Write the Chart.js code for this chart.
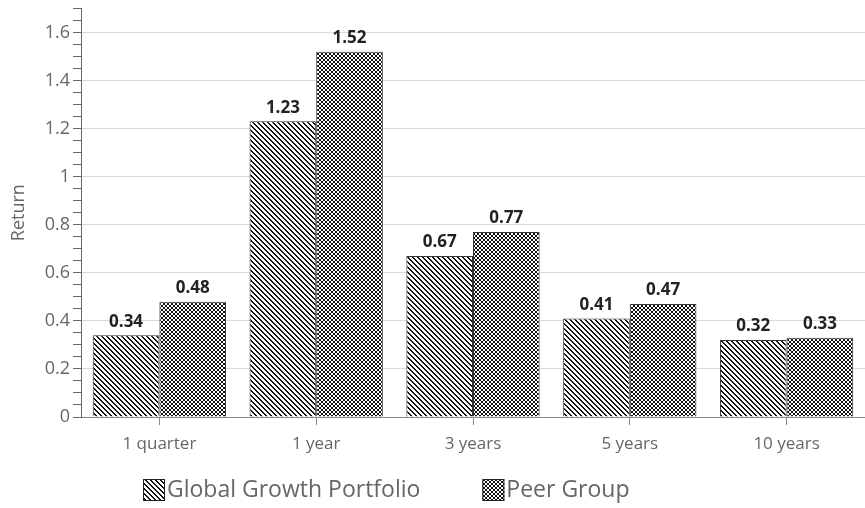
<!DOCTYPE html>
<html lang="en">
<head>
    <meta charset="UTF-8">
    <title>Return by Period</title>
    <script src="https://cdn.jsdelivr.net/npm/chart.js"></script>
    <style>
        html, body { margin: 0; padding: 0; background: #fff; }
        #wrap { width: 865px; height: 508px; }
    </style>
</head>
<body>
    <div id="wrap"><canvas id="returnChart"></canvas></div>

    <script>
        const periods = ["1 quarter", "1 year", "3 years", "5 years", "10 years"];
        const globalGrowth = [0.34, 1.23, 0.67, 0.41, 0.32];
        const peerGroup = [0.48, 1.52, 0.77, 0.47, 0.33];

        // small tiles used as canvas patterns for the bar fills
        function diagonalHatch() {
            const c = document.createElement("canvas");
            c.width = 5; c.height = 5;
            const g = c.getContext("2d");
            g.fillStyle = "#fff";
            g.fillRect(0, 0, 5, 5);
            g.fillStyle = "#111";
            for (let i = 0; i < 5; i++) {
                g.fillRect(i, i, 1, 1);
                g.fillRect((i + 1) % 5, i, 1, 1);
            }
            return g.createPattern(c, "repeat");
        }

        function crossHatch() {
            const c = document.createElement("canvas");
            c.width = 4; c.height = 4;
            const g = c.getContext("2d");
            g.fillStyle = "#fff";
            g.fillRect(0, 0, 4, 4);
            g.fillStyle = "#111";
            for (let i = 0; i < 4; i++) {
                g.fillRect(i, i, 1, 1);
                g.fillRect(3 - i, i, 1, 1);
            }
            return g.createPattern(c, "repeat");
        }

        // value labels above each bar
        const barLabels = {
            id: "barLabels",
            afterDatasetsDraw(chart) {
                const ctx = chart.ctx;
                ctx.save();
                ctx.font = "bold 17px 'Open Sans'";
                ctx.fillStyle = "#222";
                ctx.textAlign = "center";
                ctx.textBaseline = "bottom";
                chart.data.datasets.forEach((ds, di) => {
                    chart.getDatasetMeta(di).data.forEach((bar, i) => {
                        ctx.fillText(ds.data[i].toFixed(2), bar.x, bar.y - 5);
                    });
                });
                ctx.restore();
            }
        };

        // legend drawn under the axis, swatches carry the same patterns
        const patternLegend = {
            id: "patternLegend",
            afterDraw(chart) {
                const ctx = chart.ctx;
                const area = chart.chartArea;
                ctx.save();
                ctx.font = "23px 'Open Sans'";
                ctx.textBaseline = "middle";
                let x = area.left + 62;
                const y = 490;
                chart.data.datasets.forEach(ds => {
                    ctx.fillStyle = ds.backgroundColor;
                    ctx.fillRect(x, y - 11, 22, 22);
                    ctx.strokeStyle = "#222";
                    ctx.lineWidth = 1;
                    ctx.strokeRect(x + 0.5, y - 10.5, 21, 21);
                    ctx.fillStyle = "#666";
                    ctx.fillText(ds.label, x + 24, y);
                    x += 24 + ctx.measureText(ds.label).width + 62;
                });
                ctx.restore();
            }
        };

        const isMajor = v => Math.abs(v / 0.2 - Math.round(v / 0.2)) < 1e-6;

        new Chart(document.getElementById("returnChart"), {
            type: "bar",
            data: {
                labels: periods,
                datasets: [
                    {
                        label: "Global Growth Portfolio",
                        data: globalGrowth,
                        backgroundColor: diagonalHatch(),
                        borderColor: "#333",
                        borderWidth: 1
                    },
                    {
                        label: "Peer Group",
                        data: peerGroup,
                        backgroundColor: crossHatch(),
                        borderColor: "#333",
                        borderWidth: 1
                    }
                ]
            },
            options: {
                responsive: true,
                maintainAspectRatio: false,
                animation: false,
                layout: { padding: { top: 8, right: -6, left: 8, bottom: 0 } },
                datasets: {
                    bar: { categoryPercentage: 0.85, barPercentage: 1.0 }
                },
                plugins: {
                    legend: { display: false },
                    tooltip: { enabled: false }
                },
                scales: {
                    x: {
                        afterFit: s => { s.height = 91; },
                        grid: {
                            offset: false,
                            drawOnChartArea: false,
                            tickLength: 8,
                            tickColor: "#888"
                        },
                        border: { color: "#888" },
                        ticks: {
                            color: "#666",
                            padding: 9,
                            font: { family: "'Open Sans'", size: 17 }
                        }
                    },
                    y: {
                        min: 0,
                        max: 1.7,
                        afterFit: s => { s.width = 73; },
                        title: {
                            display: true,
                            text: "Return",
                            color: "#666",
                            padding: 0,
                            font: { family: "'Open Sans'", size: 18 }
                        },
                        grid: {
                            color: ctx => (isMajor(ctx.tick.value) && ctx.tick.value > 0) ? "#d9d9d9" : "rgba(0,0,0,0)",
                            tickColor: "#666",
                            tickLength: 8
                        },
                        border: { color: "#666" },
                        ticks: {
                            stepSize: 0.05,
                            autoSkip: false,
                            color: "#666",
                            padding: 3,
                            font: { family: "'Open Sans'", size: 18, lineHeight: 0.6 },
                            callback: v => isMajor(v) ? String(Number(v.toFixed(1))) : ""
                        }
                    }
                }
            },
            plugins: [barLabels, patternLegend]
        });
    </script>
</body>
</html>
